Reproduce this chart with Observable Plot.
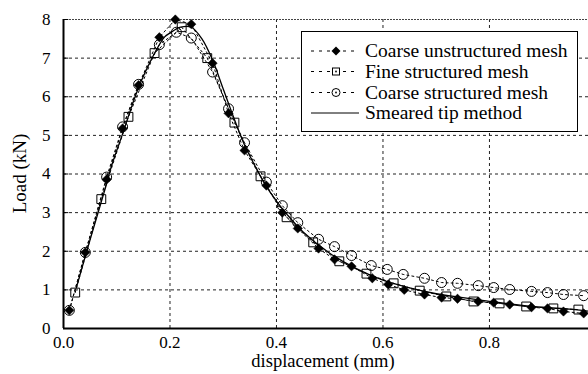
<!DOCTYPE html>
<html><head><meta charset="utf-8">
<script src="https://cdn.jsdelivr.net/npm/d3@7"></script>
<script src="https://cdn.jsdelivr.net/npm/@observablehq/plot@0.6"></script>
<style>body{margin:0;background:#fff}</style>
</head><body><div id="chart"></div>
<script>
// Coarse unstructured mesh (filled diamonds)
const cuX = [0.011,0.041,0.081,0.111,0.141,0.18,0.21,0.24,0.28,0.31,0.34,0.381,0.411,0.44,0.479,0.509,0.541,0.58,0.61,0.64,0.678,0.71,0.74,0.779,0.808,0.838,0.879,0.909,0.939,0.977];
const cuY = [0.47,1.97,3.86,5.18,6.3,7.54,8.0,7.88,6.87,5.57,4.61,3.7,3.0,2.59,2.07,1.79,1.61,1.3,1.14,1.0,0.88,0.8,0.77,0.7,0.67,0.62,0.55,0.52,0.44,0.39];
// Fine structured mesh (open squares)
const fsX = [0.022,0.071,0.122,0.171,0.222,0.27,0.321,0.37,0.419,0.469,0.518,0.569,0.62,0.669,0.719,0.77,0.819,0.869,0.92,0.967];
const fsY = [0.93,3.35,5.48,7.13,7.8,7.0,5.33,3.94,2.88,2.23,1.74,1.42,1.17,0.98,0.83,0.7,0.65,0.57,0.52,0.49];
// Coarse structured mesh (open circles)
const csX = [0.011,0.041,0.081,0.111,0.141,0.18,0.212,0.24,0.28,0.31,0.34,0.381,0.411,0.44,0.479,0.509,0.541,0.578,0.608,0.638,0.678,0.71,0.74,0.779,0.808,0.838,0.879,0.909,0.939,0.977];
const csY = [0.47,1.97,3.92,5.22,6.32,7.35,7.67,7.52,6.64,5.69,4.81,3.79,3.18,2.74,2.31,2.12,1.89,1.63,1.53,1.4,1.3,1.19,1.17,1.11,1.06,1.01,0.96,0.93,0.88,0.85];
// Smeared tip method (solid line)
const stX = [0.024,0.05,0.08,0.09,0.11,0.14,0.17,0.19,0.2,0.22,0.24,0.26,0.28,0.3,0.32,0.34,0.36,0.38,0.4,0.42,0.45,0.5,0.55,0.6,0.65,0.7,0.75,0.8,0.85,0.9,0.95,0.986];
const stY = [1.05,2.3,3.7,4.2,5.0,6.2,7.1,7.55,7.65,7.8,7.8,7.5,6.95,6.2,5.45,4.75,4.2,3.7,3.3,2.95,2.5,1.95,1.55,1.25,1.05,0.9,0.8,0.7,0.62,0.55,0.5,0.45];

const xTicks = [0, 0.2, 0.4, 0.6, 0.8];
const yTicks = [0, 1, 2, 3, 4, 5, 6, 7, 8];
const seriesNames = ["Coarse unstructured mesh", "Fine structured mesh", "Coarse structured mesh", "Smeared tip method"];
const xLabel = "displacement (mm)";
const yLabel = "Load (kN)";

const zip = (xs, ys) => xs.map((x, i) => ({x, y: ys[i]}));
const cu = zip(cuX, cuY), fs = zip(fsX, fsY), cs = zip(csX, csY), st = zip(stX, stY);

const FONT = "Liberation Serif, Times New Roman, serif";
const dash = "2,3";

const plot = Plot.plot({
  width: 588, height: 374,
  marginLeft: 63, marginRight: 0, marginTop: 19, marginBottom: 46,
  style: {fontFamily: FONT, fontSize: "17px", background: "#fff", color: "#000"},
  x: {domain: [0, 0.986], range: [63, 588]},
  y: {domain: [0, 8]},
  marks: [
    Plot.ruleX(xTicks.slice(1), {stroke: "#222", strokeDasharray: "3,3", strokeWidth: 1}),
    Plot.ruleY(yTicks.slice(1, -1), {stroke: "#222", strokeDasharray: "3,3", strokeWidth: 1}),
    Plot.ruleY([8], {stroke: "#444", strokeDasharray: "2,1", strokeWidth: 1.2}),
    Plot.ruleY(yTicks.slice(1), {x1: 0, x2: 0.01, stroke: "#000"}),
    Plot.line(st, {x: "x", y: "y", stroke: "#000", strokeWidth: 1.3, curve: "catmull-rom"}),
    Plot.line(cu, {x: "x", y: "y", stroke: "#000", strokeDasharray: dash, strokeWidth: 1}),
    Plot.line(fs, {x: "x", y: "y", stroke: "#000", strokeDasharray: dash, strokeWidth: 1}),
    Plot.line(cs, {x: "x", y: "y", stroke: "#000", strokeDasharray: dash, strokeWidth: 1}),
    Plot.dot(cs, {x: "x", y: "y", r: 5, stroke: "#000", fill: "none", strokeWidth: 1}),
    Plot.dot(fs, {x: "x", y: "y", symbol: "square", r: 5, stroke: "#000", fill: "none", strokeWidth: 1}),
    Plot.dot(cu, {x: "x", y: "y", symbol: "diamond2", r: 4.2, fill: "#000", stroke: "#000", strokeWidth: 0.5}),
    Plot.ruleX([0], {stroke: "#000", strokeWidth: 2}),
    Plot.ruleY([0], {stroke: "#000", strokeWidth: 2}),
    Plot.axisX(xTicks, {tickSize: 0, tickPadding: 7, fontSize: 17, fontFamily: FONT, label: null}),
    Plot.axisY(yTicks, {tickSize: 0, tickPadding: 13, fontSize: 17, fontFamily: FONT, label: null})
  ]
});
document.getElementById("chart").appendChild(plot);

const svg = d3.select(plot);
svg.append("text").attr("x", 323).attr("y", 367).attr("text-anchor", "middle")
  .attr("font-family", FONT).attr("font-size", 18.5).attr("fill", "#000").text(xLabel);
svg.append("text").attr("transform", "translate(26,173.5) rotate(-90)").attr("text-anchor", "middle")
  .attr("font-family", FONT).attr("font-size", 19).attr("fill", "#000").text(yLabel);

// legend
const lg = svg.append("g");
lg.append("rect").attr("x", 301.5).attr("y", 31.5).attr("width", 276).attr("height", 100)
  .attr("fill", "#fff").attr("stroke", "#000").attr("stroke-width", 1);
const rowsY = [51, 71.5, 92.5, 113];
rowsY.forEach((yy, i) => {
  lg.append("line").attr("x1", 311).attr("x2", 359).attr("y1", yy).attr("y2", yy)
    .attr("stroke", "#000").attr("stroke-width", 1).attr("stroke-dasharray", i < 3 ? "3,5" : null);
  if (i === 0) {
    lg.append("path").attr("d", `M336,${yy-4.5}L340.5,${yy}L336,${yy+4.5}L331.5,${yy}Z`).attr("fill", "#000");
  } else if (i === 1) {
    lg.append("rect").attr("x", 332.5).attr("y", yy-3.5).attr("width", 7).attr("height", 7).attr("fill", "#fff").attr("stroke", "#000");
    lg.append("circle").attr("cx", 336).attr("cy", yy).attr("r", 0.9).attr("fill", "#000");
  } else if (i === 2) {
    lg.append("circle").attr("cx", 336).attr("cy", yy).attr("r", 4).attr("fill", "#fff").attr("stroke", "#000");
    lg.append("circle").attr("cx", 336).attr("cy", yy).attr("r", 0.9).attr("fill", "#000");
  }
  lg.append("text").attr("x", 365).attr("y", yy).attr("dy", "0.33em").attr("text-anchor", "start")
    .attr("font-family", FONT).attr("font-size", 19.5).attr("fill", "#000").text(seriesNames[i]);
});
</script></body></html>
